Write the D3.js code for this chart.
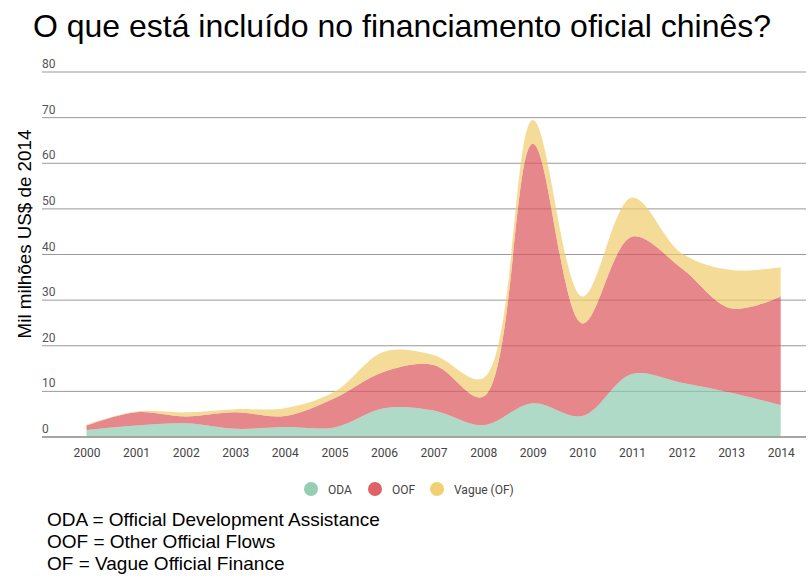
<!DOCTYPE html>
<html>
<head>
<meta charset="utf-8">
<script src="https://cdn.jsdelivr.net/npm/d3@7"></script>
<style>
  body { margin: 0; background: #fff; }
  text { font-family: Roboto, "Liberation Sans", sans-serif; }
</style>
</head>
<body>
<div id="chart"></div>
<script>
const years = [2000, 2001, 2002, 2003, 2004, 2005, 2006, 2007, 2008, 2009, 2010, 2011, 2012, 2013, 2014];
const oda   = [1.5, 2.5, 3.0, 1.8, 2.2, 2.1, 6.3, 5.8, 2.6, 7.4, 4.6, 13.8, 11.9, 9.7, 7.0];
const oof   = [1.0, 2.9, 1.5, 3.6, 2.4, 6.4, 8.0, 10.0, 6.2, 56.9, 20.3, 30.1, 25.1, 18.5, 23.8];
const vague = [0.2, 0.2, 0.9, 0.7, 1.7, 1.4, 4.4, 2.2, 4.1, 5.2, 5.9, 8.6, 3.3, 8.4, 6.4];
const seriesNames = ["ODA", "OOF", "Vague (OF)"];
const seriesColors = ["#8fcbb0", "#dc5a5e", "#f0cd6c"];
const yTicks = [0, 10, 20, 30, 40, 50, 60, 70, 80];

const width = 810;
const height = 578;

const svg = d3.select("#chart")
    .append("svg")
    .attr("width", width)
    .attr("height", height);

const rows = years.map(function(y, i) {
    return { year: y, ODA: oda[i], OOF: oof[i], "Vague (OF)": vague[i] };
});

const xScale = d3.scaleLinear()
    .domain([2000, 2014])
    .range([86.5, 780.7]);

const yScale = d3.scaleLinear()
    .domain([0, 80])
    .range([437, 72]);

// gridlines + tick labels
const grid = svg.append("g");
grid.selectAll("line")
    .data(yTicks)
    .enter()
    .append("line")
        .attr("x1", 42)
        .attr("x2", 806)
        .attr("y1", d => yScale(d))
        .attr("y2", d => yScale(d))
        .attr("stroke", d => d === 0 ? "#888" : "#999")
        .attr("stroke-width", 1);
grid.selectAll("text")
    .data(yTicks)
    .enter()
    .append("text")
        .attr("x", 42)
        .attr("y", d => yScale(d) - 4)
        .attr("font-size", 12)
        .attr("fill", "#555")
        .text(d => d);

const stack = d3.stack().keys(seriesNames);
const stacked = stack(rows);

const area = d3.area()
    .x(d => xScale(d.data.year))
    .y0(d => yScale(d[0]))
    .y1(d => yScale(d[1]))
    .curve(d3.curveCatmullRom.alpha(0.5));

svg.append("g")
    .selectAll("path")
    .data(stacked)
    .enter()
    .append("path")
        .attr("d", area)
        .attr("fill", (d, i) => seriesColors[i])
        .attr("fill-opacity", (d, i) => i === 1 ? 0.72 : 0.7);

// baseline on top of areas
svg.append("line")
    .attr("x1", 42).attr("x2", 806)
    .attr("y1", yScale(0)).attr("y2", yScale(0))
    .attr("stroke", "#888");

const xAxis = svg.append("g")
    .attr("transform", `translate(0,${yScale(0)})`)
    .call(d3.axisBottom(xScale).tickValues(years).tickFormat(d3.format("d")).tickSize(0).tickPadding(11));
xAxis.select(".domain").remove();
xAxis.selectAll("text")
    .attr("font-size", 12)
    .attr("fill", "#444")
    .style("font-family", "Roboto, sans-serif");

// title
svg.append("text")
    .attr("x", 402)
    .attr("y", 37)
    .attr("text-anchor", "middle")
    .style("font-family", "'Liberation Sans', Arial, sans-serif")
    .attr("font-size", 32)
    .attr("fill", "#000")
    .text("O que está incluído no financiamento oficial chinês?");

// y label
svg.append("text")
    .attr("transform", "rotate(-90)")
    .attr("x", -234)
    .attr("y", 31)
    .attr("text-anchor", "middle")
    .style("font-family", "'Liberation Sans', Arial, sans-serif")
    .attr("font-size", 18.8)
    .attr("fill", "#000")
    .text("Mil milhões US$ de 2014");

// legend
const legendX = [311, 375, 437];
const legend = svg.append("g")
    .selectAll("g")
    .data(seriesNames)
    .enter()
    .append("g")
        .attr("transform", (d, i) => `translate(${legendX[i]},489)`);
legend.append("circle")
    .attr("r", 7)
    .attr("fill", (d, i) => seriesColors[i])
    .attr("fill-opacity", 0.95);
legend.append("text")
    .attr("x", 17)
    .attr("y", 4.5)
    .attr("font-size", 12)
    .attr("fill", "#444")
    .text(d => d);

// footnote
const notes = ["ODA = Official Development Assistance", "OOF = Other Official Flows", "OF = Vague Official Finance"];
svg.append("g")
    .selectAll("text")
    .data(notes)
    .enter()
    .append("text")
        .attr("x", 47)
        .attr("y", (d, i) => 526 + i * 22)
        .style("font-family", "'Liberation Sans', Arial, sans-serif")
        .attr("font-size", 19)
        .attr("fill", "#000")
        .text(d => d);
</script>
</body>
</html>
